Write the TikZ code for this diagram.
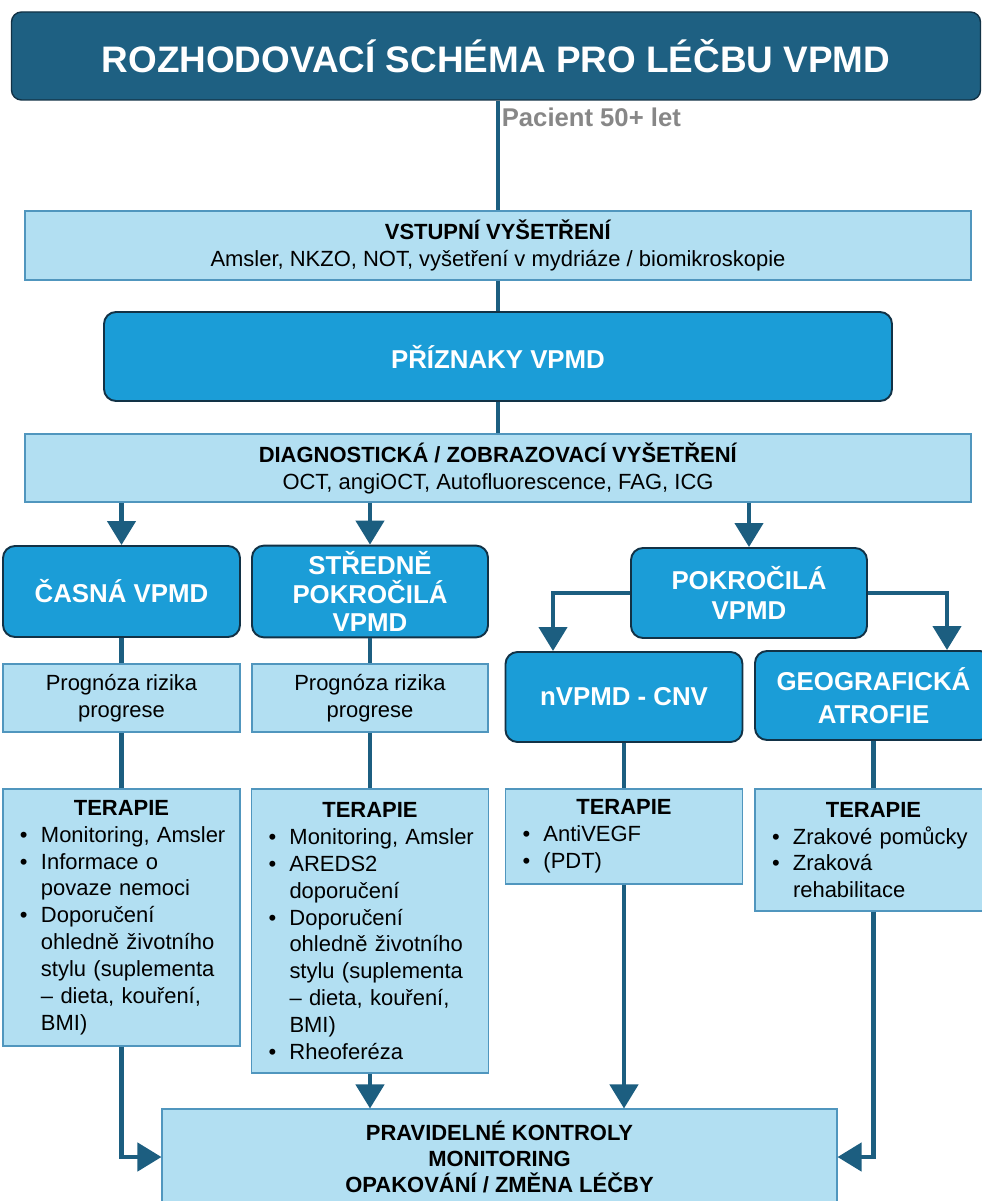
\documentclass[tikz,border=0pt]{standalone}
\usepackage{fontspec}
\setmainfont{Liberation Sans}
\usetikzlibrary{arrows.meta}

\definecolor{titleblue}{RGB}{30,96,130}
\definecolor{midblue}{RGB}{27,157,215}
\definecolor{lightblue}{RGB}{178,223,242}
\definecolor{edgeblue}{RGB}{80,150,190}
\definecolor{darkedge}{RGB}{18,50,70}
\definecolor{lineblue}{RGB}{28,94,128}
\definecolor{pacgray}{RGB}{135,135,135}

\newcommand{\terhead}{{\centering\noindent\textbf{TERAPIE}\par}}
\newcommand{\titem}[1]{\par\raggedright\hyphenpenalty=10000\relax
    \noindent\hangindent=0.56cm\hangafter=1%
    \hspace*{0.14cm}\makebox[0.42cm][l]{\textbullet}#1\par}

\begin{document}
\begin{tikzpicture}[
    titlebox/.style={draw=darkedge, line width=0.8pt, fill=titleblue, rounded corners=0.2cm,
        text=white, font=\fontsize{21}{25}\selectfont\bfseries},
    midbox/.style={draw=darkedge, line width=1.1pt, fill=midblue, rounded corners=0.24cm,
        text=white, align=center, font=\fontsize{14.7}{17.5}\selectfont\bfseries},
    lbox/.style={draw=edgeblue, line width=0.6pt, fill=lightblue, align=center,
        font=\fontsize{12.5}{15.3}\selectfont},
    terbox/.style={draw=edgeblue, line width=0.6pt, fill=lightblue,
        font=\fontsize{12.5}{15.3}\selectfont,
        text width=4.34cm, inner xsep=0.2cm, inner ysep=0pt},
    conn/.style={draw=lineblue, line width=2.5pt},
    arr/.style={conn, -{Triangle[width=0.56cm,length=0.48cm]}}
]
    \clip (0,0) rectangle (19.64,-24.02);
    \fill[white] (0,0) rectangle (19.64,-24.02);

    % title
    \node[titlebox, minimum width=19.38cm, minimum height=1.76cm] (title) at (9.92,-1.12)
        {ROZHODOVACÍ SCHÉMA PRO LÉČBU VPMD};
    \node[anchor=base west, inner sep=0pt, text=pacgray, font=\fontsize{14.6}{16}\selectfont\bfseries]
        (pac) at (10.03,-2.54) {Pacient 50+ let};

    % vstup, priznaky, diagnostika
    \node[lbox, minimum width=18.92cm, minimum height=1.38cm] (vst) at (9.96,-4.91)
        {\textbf{VSTUPNÍ VYŠETŘENÍ}\\ Amsler, NKZO, NOT, vyšetření v mydriáze / biomikroskopie};
    \node[midbox, minimum width=15.76cm, minimum height=1.78cm] (pri) at (9.96,-7.13) {PŘÍZNAKY VPMD};
    \node[lbox, minimum width=18.92cm, minimum height=1.36cm] (diag) at (9.96,-9.36)
        {\textbf{DIAGNOSTICKÁ / ZOBRAZOVACÍ VYŠETŘENÍ}\\ OCT, angiOCT, Autofluorescence, FAG, ICG};

    \draw[conn] (title.south -| vst.north) -- (vst.north);
    \draw[conn] (vst) -- (pri);
    \draw[conn] (pri) -- (diag);

    % stadia
    \node[midbox, minimum width=4.74cm, minimum height=1.82cm] (cas) at (2.43,-11.83) {ČASNÁ VPMD};
    \node[midbox, font=\fontsize{14.7}{16.2}\selectfont\bfseries, minimum width=4.72cm, minimum height=1.82cm]
        (str) at (7.40,-11.83) {STŘEDNĚ\\ POKROČILÁ\\ VPMD};
    \node[midbox, minimum width=4.72cm, minimum height=1.80cm] (pok) at (14.98,-11.86) {POKROČILÁ\\ VPMD};
    \node[midbox, minimum width=4.74cm, minimum height=1.80cm] (nv) at (12.48,-13.94) {nVPMD - CNV};
    \node[midbox, font=\fontsize{14.7}{18.5}\selectfont\bfseries, minimum width=4.74cm, minimum height=1.78cm]
        (geo) at (17.47,-13.91) {GEOGRAFICKÁ\\ ATROFIE};

    \draw[arr] (diag.south -| cas.north) -- (cas.north);
    \draw[arr] (diag.south -| str.north) -- (str.north);
    \draw[arr] (diag.south -| pok.north) -- (pok.north);
    \draw[arr] (pok.west) -| ([xshift=-1.42cm]nv.north);
    \draw[arr] (pok.east) -| ([xshift=1.47cm]geo.north);

    % prognoza
    \node[lbox, minimum width=4.74cm, minimum height=1.36cm] (prog1) at (2.43,-13.96) {Prognóza rizika\\ progrese};
    \node[lbox, minimum width=4.72cm, minimum height=1.36cm] (prog2) at (7.40,-13.96) {Prognóza rizika\\ progrese};

    \draw[conn] (cas) -- (prog1);
    \draw[conn] (str) -- (prog2);

    % terapie
    \node[terbox, minimum height=5.14cm] (ter1) at (2.43,-18.35) {\terhead
        \titem{Monitoring, Amsler}
        \titem{Informace o\newline povaze nemoci}
        \titem{Doporučení\newline ohledně životního\newline stylu (suplementa\newline – dieta, kouření,\newline BMI)}};
    \node[terbox, minimum height=5.68cm] (ter2) at (7.40,-18.62) {\terhead
        \titem{Monitoring, Amsler}
        \titem{AREDS2\newline doporučení}
        \titem{Doporučení\newline ohledně životního\newline stylu (suplementa\newline – dieta, kouření,\newline BMI)}
        \titem{Rheoferéza}};
    \node[terbox, minimum height=1.90cm] (ter3) at (12.48,-16.73) {\terhead
        \titem{AntiVEGF}
        \titem{(PDT)}};
    \node[terbox, minimum height=2.44cm] (ter4) at (17.47,-17.00) {\terhead
        \titem{Zrakové pomůcky}
        \titem{Zraková\newline rehabilitace}};

    \draw[conn] (prog1) -- (ter1);
    \draw[conn] (prog2) -- (ter2);
    \draw[conn] (nv) -- (ter3);
    \draw[conn] (geo.south -| ter4.north) -- (ter4.north);

    % kontroly
    \node[lbox, font=\fontsize{12.5}{15}\selectfont\bfseries, minimum width=13.5cm, minimum height=1.92cm]
        (kon) at (9.99,-23.14) {PRAVIDELNÉ KONTROLY\\ MONITORING\\ OPAKOVÁNÍ / ZMĚNA LÉČBY};

    \draw[arr] (ter1.south) |- (kon.west);
    \draw[arr] (ter2.south) -- (ter2.south |- kon.north);
    \draw[arr] (ter3.south) -- (ter3.south |- kon.north);
    \draw[arr] (ter4.south) |- (kon.east);
\end{tikzpicture}
\end{document}
